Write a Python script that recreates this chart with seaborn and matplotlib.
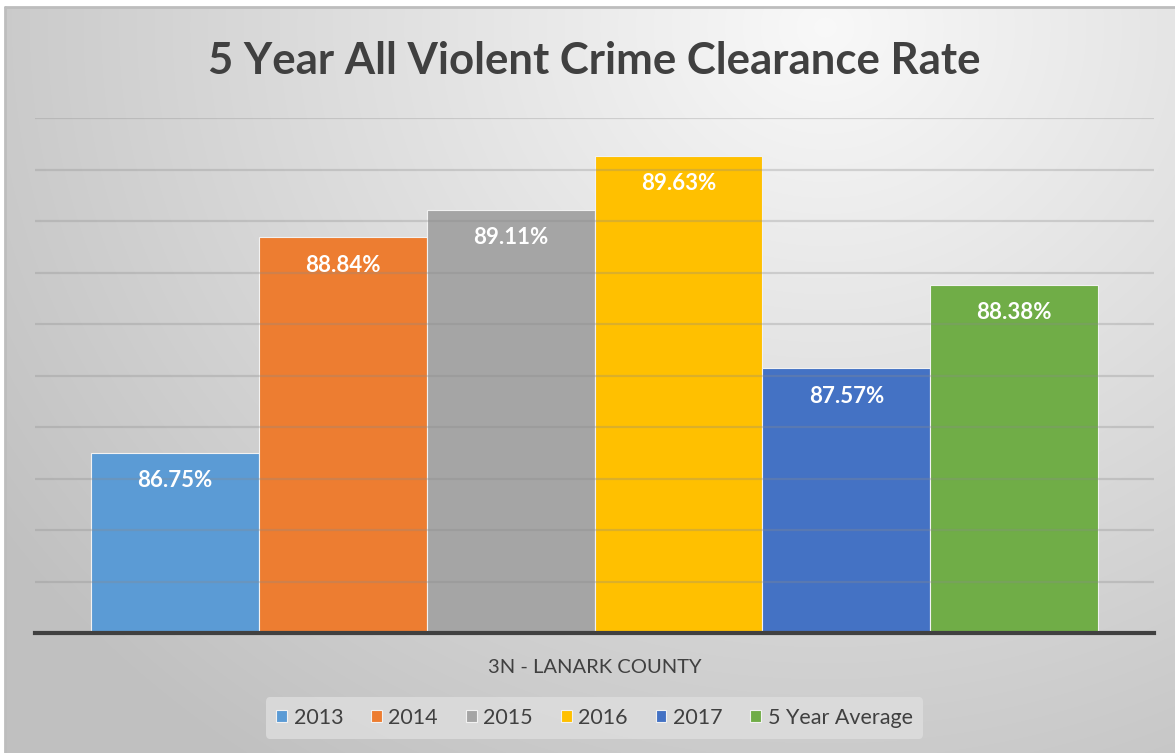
import numpy as np
import pandas as pd
import matplotlib
matplotlib.use("Agg")
import matplotlib.pyplot as plt
import seaborn as sns

categories = ["3N - LANARK COUNTY"]
series = ["2013", "2014", "2015", "2016", "2017", "5 Year Average"]
values = [86.75, 88.84, 89.11, 89.63, 87.57, 88.38]
labels = ["86.75%", "88.84%", "89.11%", "89.63%", "87.57%", "88.38%"]
colors = ["#5b9bd5", "#ed7d31", "#a5a5a5", "#ffc000", "#4472c4", "#70ad47"]
title = "5 Year All Violent Crime Clearance Rate"

df = pd.DataFrame({"cat": categories * len(series), "series": series, "value": values})

sns.set_theme(style="white")
plt.rcParams["font.family"] = ["Lato", "DejaVu Sans"]

W, H = 1175, 753
fig = plt.figure(figsize=(W / 100, H / 100), dpi=100, facecolor="white")

# background gradient panel
bg = fig.add_axes([5 / W, 0, 1 - 5 / W, (H - 7) / H])
yy, xx = np.mgrid[0:746, 0:1170]
cx, cy = 820, 20
d = np.sqrt(((xx - cx) / 1.0) ** 2 + ((yy - cy) / 0.9) ** 2)
t = np.clip(d / 1000, 0, 1)
grey = 0.975 - 0.22 * t
img = np.dstack([grey, grey, grey])
bg.imshow(img, aspect="auto", extent=[0, 1, 0, 1], origin="upper")
bg.set_xlim(0, 1)
bg.set_ylim(0, 1)
bg.axis("off")
bg.plot([0, 0], [0, 1], color="#bdbdbd", lw=2, transform=bg.transAxes, clip_on=False)
bg.plot([0, 1], [1, 1], color="#bdbdbd", lw=2, transform=bg.transAxes, clip_on=False)

ax = fig.add_axes([35 / W, (H - 633) / H, (1154 - 35) / W, (633 - 118) / H])
ax.patch.set_alpha(0)
sns.barplot(data=df, x="cat", y="value", hue="series", palette=colors,
            width=0.9, ax=ax, legend=True, saturation=1,
            edgecolor="#f2f2f2", linewidth=0.8)
ax.set_ylim(85, 90)
ax.set_xlim(-0.5, 0.5)
ax.set_yticks(np.arange(85, 90.01, 0.5))
ax.yaxis.grid(True, color="#8a8a8a", alpha=0.3, linewidth=1.6, zorder=5)
ax.set_axisbelow(False)
ax.set_yticklabels([])
ax.tick_params(axis="y", length=0)
ax.set_xlabel("")
ax.set_ylabel("")
ax.set_xticks([0])
ax.set_xticklabels(categories, fontsize=14.5, color="#404040")
ax.tick_params(axis="x", length=0, pad=19)
for s in ["top", "right", "left"]:
    ax.spines[s].set_visible(False)
ax.spines["bottom"].set_color("#404040")
ax.spines["bottom"].set_linewidth(3)
ax.spines["bottom"].set_zorder(6)

for cont, lab in zip(ax.containers, labels):
    for bar in cont:
        ax.text(bar.get_x() + bar.get_width() / 2, bar.get_height() - 0.27, lab,
                ha="center", va="center", color="white", fontsize=16,
                fontweight="bold", zorder=7)

leg = ax.legend(loc="center", bbox_to_anchor=(0.5, (633 - 718) / (633 - 118)),
                ncol=6, frameon=True, fontsize=15.5, handlelength=0.5,
                handleheight=0.5, handletextpad=0.3, columnspacing=1.3,
                borderpad=0.5)
leg.get_frame().set_facecolor("#dedede")
leg.get_frame().set_edgecolor("none")
for txt in leg.get_texts():
    txt.set_color("#404040")

fig.text(594 / W, 1 - 61 / H, title, ha="center", va="center", fontsize=31.5,
         fontweight="bold", color="#404040")

fig.savefig("out.png", dpi=100)
